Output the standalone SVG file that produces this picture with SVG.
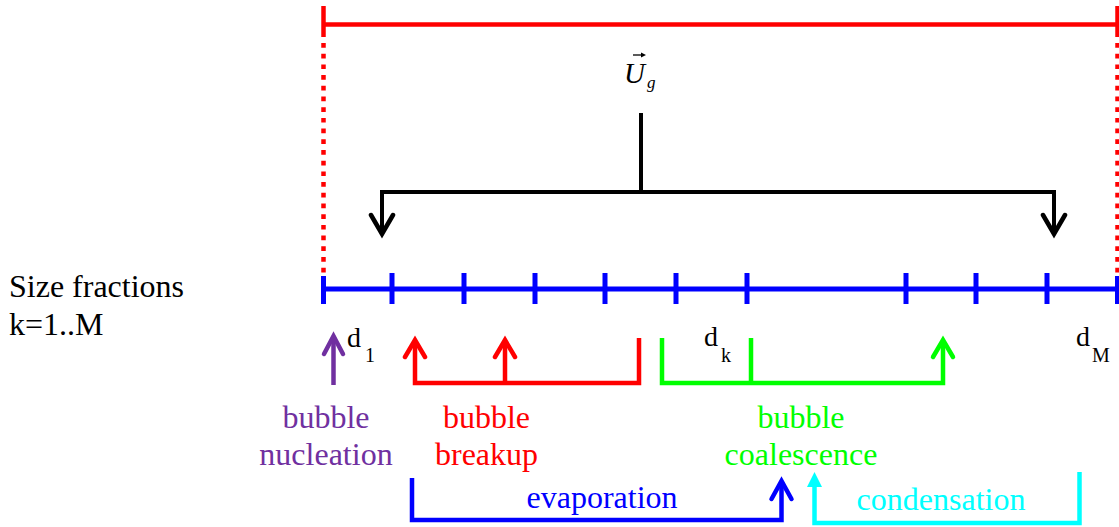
<svg xmlns="http://www.w3.org/2000/svg" width="1119" height="527" viewBox="0 0 1119 527" font-family="'Liberation Serif', 'Times New Roman', Tinos, 'DejaVu Serif', serif">
<style>
text{font-family:'Liberation Serif','Times New Roman',Tinos,'DejaVu Serif',serif;}
.lbl{font-size:32px;}
.mid{text-anchor:middle;}
.d{font-size:28px;fill:#000;}
.sub{font-size:20px;fill:#000;}
.ln{fill:none;stroke-linecap:butt;stroke-linejoin:miter;}
.chev{fill:none;stroke-width:4.5;stroke-linecap:round;stroke-linejoin:miter;}
</style>
<rect width="1119" height="527" fill="#fff"/>
<g id="domain">
<line x1="323.5" y1="24.5" x2="1119" y2="24.5" stroke="#FF0000" stroke-width="4.5"/>
<line x1="323.5" y1="6" x2="323.5" y2="37" stroke="#FF0000" stroke-width="4.5"/>
<line x1="1117.5" y1="6" x2="1117.5" y2="37" stroke="#FF0000" stroke-width="4.5"/>
<line x1="323.5" y1="43" x2="323.5" y2="289" stroke="#FF0000" stroke-width="4.5" stroke-dasharray="4.7 6"/>
<line x1="1117.5" y1="43" x2="1117.5" y2="289" stroke="#FF0000" stroke-width="4.5" stroke-dasharray="4.7 6"/>
</g>
<g id="size-axis" stroke="#0000FF" stroke-width="5">
<line x1="321" y1="289" x2="1119" y2="289"/>
<path d="M323.5 276V304M392 273V304M464 273V304M535 273V304M605 273V304M676 273V304M747 273V304M906 273V304M976 273V304M1047 273V304M1117.5 276V304"/>
</g>
<g id="size-label">
<text class="lbl" x="9" y="297">Size fractions</text>
<text class="lbl" x="9" y="335">k=1..M</text>
</g>
<g id="velocity-label">
<text x="624" y="83" font-size="29" font-style="italic">U</text>
<line x1="633" y1="55" x2="644" y2="55" stroke="#000" stroke-width="1.3"/>
<path d="M641 52.5L646 55L641 57.5Z" fill="#000"/>
<text x="647" y="88" font-size="17" font-style="italic">g</text>
</g>
<g id="diameter-labels">
<text class="d" x="347" y="347">d</text><text class="sub" x="365" y="362">1</text>
<text class="d" x="704" y="345.5">d</text><text class="sub" x="721" y="361.5">k</text>
<text class="d" x="1076" y="345.5">d</text><text class="sub" x="1092" y="361.5">M</text>
</g>
<g id="connectors">
<g id="velocity-connector" stroke="#000">
<path class="ln" stroke-width="4" d="M641 113V192M382 234V192H1054V234"/>
<path class="chev" stroke-width="4" d="M371 215L382 234L393 215M1043 215L1054 234L1065 215"/>
</g>
<g id="nucleation-connector" stroke="#7030A0">
<path class="ln" stroke-width="4.5" d="M333.5 385V337"/>
<path class="chev" d="M324 354L333.5 336L343 354"/>
</g>
<g id="breakup-connector" stroke="#FF0000">
<path class="ln" stroke-width="4.5" d="M415 341V383H639V338M505 341V383"/>
<path class="chev" d="M405 357L415 340L425 357M495 357L505 340L515 357"/>
</g>
<g id="coalescence-connector" stroke="#00FF00">
<path class="ln" stroke-width="4.5" d="M662 338V383H943V341M751 338V383"/>
<path class="chev" d="M933 357L943 340L953 357"/>
</g>
<g id="evaporation-connector" stroke="#0000FF">
<path class="ln" stroke-width="4.5" d="M412 478V520H781.5V482"/>
<path class="chev" d="M771.5 499L781.5 481L791.5 499"/>
</g>
<g id="condensation-connector">
<path class="ln" stroke="#00FFFF" stroke-width="4.5" d="M814.5 484V523H1079.5V472"/>
<path d="M807 487L814.5 472L822 487Z" fill="#00FFFF"/>
</g>
</g>
<g id="nucleation"><text class="lbl mid" x="326" y="428" fill="#7030A0">bubble</text><text class="lbl mid" x="326" y="465" fill="#7030A0">nucleation</text></g>
<g id="breakup"><text class="lbl mid" x="486.5" y="428" fill="#FF0000">bubble</text><text class="lbl mid" x="486.5" y="465" fill="#FF0000">breakup</text></g>
<g id="coalescence"><text class="lbl mid" x="801" y="428" fill="#00FF00">bubble</text><text class="lbl mid" x="801" y="465" fill="#00FF00">coalescence</text></g>
<g id="evaporation"><text class="lbl mid" x="602" y="508" fill="#0000FF">evaporation</text></g>
<g id="condensation"><text class="lbl mid" x="941" y="510" fill="#00FFFF">condensation</text></g>
</svg>
